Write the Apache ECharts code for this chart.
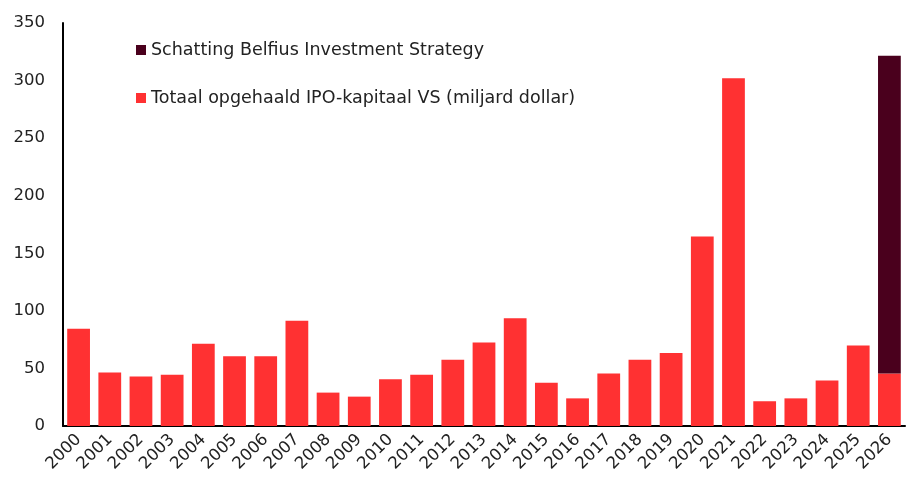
<!DOCTYPE html>
<html>
<head>
<meta charset="utf-8">
<script src="https://cdn.jsdelivr.net/npm/echarts@6/dist/echarts.min.js"></script>
<style>
  html, body { margin: 0; padding: 0; background: #fff; }
  #chart { width: 917px; height: 495px; }
</style>
</head>
<body>
<div id="chart"></div>
<script>
const years = ['2000', '2001', '2002', '2003', '2004', '2005', '2006', '2007', '2008', '2009',
  '2010', '2011', '2012', '2013', '2014', '2015', '2016', '2017', '2018', '2019',
  '2020', '2021', '2022', '2023', '2024', '2025', '2026'];
// totaal opgehaald IPO-kapitaal VS (miljard dollar)
const ipoTotal = [84.5, 46.5, 43, 44.5, 71.5, 60.5, 60.5, 91.5, 29, 25.5,
  40.5, 44.5, 57.5, 72.5, 93.5, 37.5, 24, 45.5, 57.5, 63.5,
  164.5, 302, 21.5, 24, 39.5, 70, 45.5];
// schatting bovenop 2026
const estimate = [null, null, null, null, null, null, null, null, null, null,
  null, null, null, null, null, null, null, null, null, null,
  null, null, null, null, null, null, 276];

const NAME_EST = 'Schatting Belfius Investment Strategy';
const NAME_TOT = 'Totaal opgehaald IPO-kapitaal VS (miljard dollar)';
const font = 'DejaVu Sans';

const chart = echarts.init(document.getElementById('chart'));
chart.setOption({
  animation: false,
  textStyle: { fontFamily: font },
  grid: { left: 63, right: 12, top: 23, bottom: 69 },
  legend: {
    orient: 'vertical',
    left: 131,
    top: 36,
    itemWidth: 10,
    itemHeight: 10,
    itemGap: 30,
    icon: 'rect',
    data: [NAME_EST, NAME_TOT],
    textStyle: { fontFamily: font, fontSize: 17.5, color: '#222' },
  },
  xAxis: {
    type: 'category',
    data: years,
    axisLine: { lineStyle: { color: '#000', width: 2 } },
    axisTick: { show: false },
    axisLabel: { rotate: 45, color: '#222', fontSize: 16.5, margin: 11, interval: 0 },
  },
  yAxis: {
    type: 'value',
    min: 0,
    max: 350,
    interval: 50,
    axisLine: { show: true, lineStyle: { color: '#000', width: 2 } },
    axisTick: { show: false },
    splitLine: { show: false },
    axisLabel: { color: '#222', fontSize: 16.5, margin: 18 },
  },
  series: [
    {
      name: NAME_TOT,
      type: 'bar',
      stack: 'ipo',
      data: ipoTotal,
      barCategoryGap: '27%',
      itemStyle: { color: '#ff3132' },
    },
    {
      name: NAME_EST,
      type: 'bar',
      stack: 'ipo',
      data: estimate,
      itemStyle: { color: '#4a001d' },
    },
  ],
});
</script>
</body>
</html>
